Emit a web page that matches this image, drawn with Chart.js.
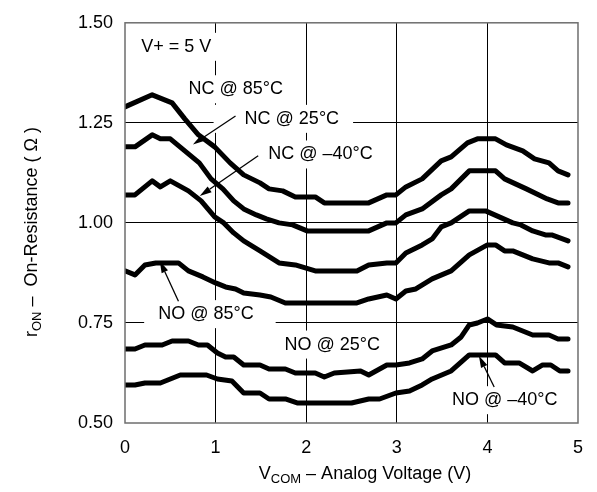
<!DOCTYPE html>
<html>
<head>
<meta charset="utf-8">
<script src="https://cdn.jsdelivr.net/npm/chart.js@4.4.1/dist/chart.umd.min.js"></script>
<style>
  html, body { margin: 0; padding: 0; background: #fff; }
  #wrap { width: 597px; height: 492px; }
</style>
</head>
<body>
<div id="wrap"><canvas id="chart" width="597" height="492"></canvas></div>
<script>
// tick labels
var xTicks = [0, 1, 2, 3, 4, 5];
var yTicks = ['0.50', '0.75', '1.00', '1.25', '1.50'];

// NC @ 85 C
var ncHotV = [0, 0.30, 0.52, 0.66, 0.81, 0.99, 1.16, 1.31, 1.49, 1.59, 1.74, 1.88, 2.10, 2.20, 2.69, 2.89, 2.99, 3.10, 3.28, 3.49, 3.60, 3.78, 3.89, 4.09, 4.21, 4.39, 4.52, 4.68, 4.78, 4.89];
var ncHotR = [1.29, 1.32, 1.30, 1.26, 1.22, 1.19, 1.15, 1.12, 1.10, 1.085, 1.08, 1.065, 1.065, 1.05, 1.05, 1.07, 1.07, 1.09, 1.11, 1.155, 1.165, 1.20, 1.21, 1.21, 1.195, 1.18, 1.16, 1.15, 1.13, 1.12];

// NC @ 25 C
var ncRoomV = [0, 0.11, 0.30, 0.39, 0.50, 0.66, 0.82, 0.95, 1.08, 1.20, 1.31, 1.45, 1.56, 1.70, 1.85, 2.01, 2.69, 2.89, 2.99, 3.10, 3.28, 3.49, 3.60, 3.80, 4.09, 4.19, 4.43, 4.66, 4.78, 4.89];
var ncRoomR = [1.19, 1.19, 1.22, 1.21, 1.21, 1.18, 1.15, 1.11, 1.085, 1.055, 1.035, 1.02, 1.01, 1.00, 0.995, 0.98, 0.98, 1.00, 1.00, 1.02, 1.035, 1.07, 1.085, 1.13, 1.13, 1.11, 1.085, 1.06, 1.05, 1.05];

// NC @ -40 C
var ncColdV = [0, 0.11, 0.30, 0.39, 0.50, 0.70, 0.84, 0.99, 1.09, 1.20, 1.31, 1.49, 1.70, 1.88, 2.10, 2.56, 2.69, 2.89, 2.99, 3.10, 3.28, 3.39, 3.49, 3.60, 3.80, 3.98, 4.28, 4.37, 4.50, 4.64, 4.71, 4.89];
var ncColdR = [1.07, 1.07, 1.105, 1.09, 1.105, 1.08, 1.055, 1.015, 1.00, 0.975, 0.955, 0.93, 0.90, 0.895, 0.88, 0.88, 0.895, 0.90, 0.90, 0.925, 0.945, 0.96, 0.99, 1.00, 1.03, 1.03, 1.00, 0.995, 0.98, 0.97, 0.97, 0.955];

// NO @ 85 C
var noHotV = [0, 0.11, 0.22, 0.34, 0.59, 0.70, 0.86, 1.00, 1.11, 1.22, 1.31, 1.49, 1.61, 1.77, 2.56, 2.69, 2.89, 2.99, 3.10, 3.21, 3.39, 3.60, 3.80, 4.00, 4.09, 4.19, 4.28, 4.50, 4.68, 4.78, 4.89];
var noHotR = [0.88, 0.87, 0.895, 0.90, 0.90, 0.88, 0.865, 0.85, 0.84, 0.835, 0.825, 0.82, 0.815, 0.80, 0.80, 0.81, 0.82, 0.81, 0.83, 0.835, 0.86, 0.88, 0.92, 0.945, 0.945, 0.93, 0.93, 0.91, 0.90, 0.90, 0.89];

// NO @ 25 C
var noRoomV = [0, 0.11, 0.22, 0.41, 0.52, 0.70, 0.81, 0.91, 1.02, 1.11, 1.20, 1.31, 1.49, 1.59, 1.77, 1.88, 2.10, 2.20, 2.31, 2.60, 2.69, 2.89, 2.99, 3.14, 3.28, 3.39, 3.60, 3.71, 3.80, 3.89, 4.00, 4.10, 4.28, 4.50, 4.68, 4.78, 4.89];
var noRoomR = [0.685, 0.685, 0.695, 0.695, 0.705, 0.705, 0.695, 0.695, 0.675, 0.665, 0.665, 0.645, 0.645, 0.635, 0.635, 0.625, 0.625, 0.615, 0.625, 0.63, 0.62, 0.645, 0.645, 0.65, 0.66, 0.68, 0.695, 0.715, 0.745, 0.75, 0.76, 0.745, 0.74, 0.72, 0.72, 0.71, 0.71];

// NO @ -40 C
var noColdV = [0, 0.11, 0.22, 0.39, 0.61, 0.90, 1.02, 1.18, 1.31, 1.49, 1.59, 1.77, 1.90, 2.50, 2.69, 2.81, 2.99, 3.14, 3.28, 3.39, 3.60, 3.80, 4.09, 4.19, 4.35, 4.50, 4.61, 4.70, 4.80, 4.89];
var noColdR = [0.595, 0.595, 0.60, 0.60, 0.62, 0.62, 0.61, 0.605, 0.575, 0.575, 0.56, 0.56, 0.55, 0.55, 0.56, 0.56, 0.575, 0.58, 0.595, 0.61, 0.63, 0.67, 0.67, 0.65, 0.65, 0.63, 0.645, 0.645, 0.63, 0.63];

var FONT = '"Liberation Sans", Arial, Helvetica, sans-serif';

// callouts, placed in data units
var callouts = [
    { text: 'V+ = 5 V', x: 0.18, y: 1.44, padL: 8, padR: 10 },
    { text: 'NC @ 85\u00b0C', x: 0.70, y: 1.334, padL: 8, padR: 8 },
    { text: 'NC @ 25\u00b0C', x: 1.32, y: 1.26, padL: 31, padR: 14 },
    { text: 'NC @ \u201340\u00b0C', x: 1.58, y: 1.171, padL: 8, padR: 8 },
    { text: 'NO @ 85\u00b0C', x: 0.366, y: 0.772, padL: 14, padR: 22 },
    { text: 'NO @ 25\u00b0C', x: 1.76, y: 0.696, padL: 8, padR: 8 },
    { text: 'NO @ \u201340\u00b0C', x: 3.61, y: 0.557, padL: 8, padR: 8 }
];
var arrows = [
    { from: [1.22, 1.267], to: [0.75, 1.196] },
    { from: [1.47, 1.168], to: [0.825, 1.067] },
    { from: [0.59, 0.804], to: [0.384, 0.905] },
    { from: [4.075, 0.59], to: [3.906, 0.668] }
];

function pairs(vs, rs) {
    return vs.map(function (v, i) { return { x: v, y: rs[i] }; });
}

function curve(vs, rs) {
    return {
        data: pairs(vs, rs),
        borderColor: '#000',
        borderWidth: 5,
        pointRadius: 0,
        tension: 0,
        fill: false,
        borderJoinStyle: 'round',
        borderCapStyle: 'round'
    };
}

// draws text pieces with subscripts, centred on cx
function drawRich(ctx, parts, cx, cy) {
    var total = 0;
    parts.forEach(function (p) {
        ctx.font = p.size + 'px ' + FONT;
        p.w = ctx.measureText(p.t).width;
        total += p.w;
    });
    var x = cx - total / 2;
    ctx.textBaseline = 'middle';
    ctx.textAlign = 'left';
    parts.forEach(function (p) {
        ctx.font = p.size + 'px ' + FONT;
        ctx.fillText(p.t, x, cy + p.dy);
        x += p.w;
    });
}

var decorPlugin = {
    id: 'decor',
    beforeDatasetsDraw: function (chart) {
        var ctx = chart.ctx;
        var xs = chart.scales.x, ys = chart.scales.y;
        ctx.save();
        ctx.font = '18px ' + FONT;
        callouts.forEach(function (c) {
            var px = xs.getPixelForValue(c.x), py = ys.getPixelForValue(c.y);
            var w = ctx.measureText(c.text).width;
            ctx.fillStyle = '#fff';
            ctx.fillRect(px - c.padL, py - 14, w + c.padL + c.padR, 28);
        });
        ctx.fillStyle = '#000';
        ctx.textBaseline = 'middle';
        ctx.textAlign = 'left';
        callouts.forEach(function (c) {
            ctx.fillText(c.text, xs.getPixelForValue(c.x), ys.getPixelForValue(c.y));
        });
        ctx.strokeStyle = '#000';
        ctx.lineWidth = 1.3;
        arrows.forEach(function (a) {
            var x1 = xs.getPixelForValue(a.from[0]), y1 = ys.getPixelForValue(a.from[1]);
            var x2 = xs.getPixelForValue(a.to[0]), y2 = ys.getPixelForValue(a.to[1]);
            var ang = Math.atan2(y2 - y1, x2 - x1);
            var len = 12, half = 3.5;
            var bx = x2 - len * Math.cos(ang), by = y2 - len * Math.sin(ang);
            ctx.beginPath();
            ctx.moveTo(x1, y1);
            ctx.lineTo(bx, by);
            ctx.stroke();
            ctx.beginPath();
            ctx.moveTo(x2, y2);
            ctx.lineTo(bx + half * Math.sin(ang), by - half * Math.cos(ang));
            ctx.lineTo(bx - half * Math.sin(ang), by + half * Math.cos(ang));
            ctx.closePath();
            ctx.fill();
        });
        ctx.restore();
    },
    afterDraw: function (chart) {
        var ctx = chart.ctx, a = chart.chartArea;
        ctx.save();
        ctx.strokeStyle = '#6e6e6e';
        ctx.lineWidth = 1.5;
        ctx.strokeRect(a.left, a.top, a.right - a.left, a.bottom - a.top);
        ctx.fillStyle = '#000';
        drawRich(ctx, [
            { t: 'V', size: 18, dy: 0 },
            { t: 'COM', size: 13, dy: 5 },
            { t: ' \u2013 Analog Voltage (V)', size: 18, dy: 0 }
        ], 365, 474);
        ctx.translate(32, 232);
        ctx.rotate(-Math.PI / 2);
        drawRich(ctx, [
            { t: 'r', size: 18, dy: 0 },
            { t: 'ON', size: 13, dy: 5 },
            { t: ' \u2013  On-Resistance ( \u03a9 )', size: 18, dy: 0 }
        ], 0, 0);
        ctx.restore();
    }
};

function gridColor(c) {
    if (!c.tick) return '#000';
    var v = c.tick.value;
    return (v === 0 || v === 5 || v === 0.5 || v === 1.5) ? 'rgba(0,0,0,0)' : '#000';
}

new Chart(document.getElementById('chart').getContext('2d'), {
    type: 'line',
    data: {
        datasets: [
            curve(ncHotV, ncHotR),
            curve(ncRoomV, ncRoomR),
            curve(ncColdV, ncColdR),
            curve(noHotV, noHotR),
            curve(noRoomV, noRoomR),
            curve(noColdV, noColdR)
        ]
    },
    options: {
        responsive: false,
        animation: false,
        layout: { padding: { top: 19, right: 7.5, left: 0, bottom: 0 } },
        plugins: { legend: { display: false }, tooltip: { enabled: false } },
        scales: {
            x: {
                type: 'linear',
                min: xTicks[0],
                max: xTicks[xTicks.length - 1],
                afterBuildTicks: function (s) { s.ticks = xTicks.map(function (v) { return { value: v }; }); },
                ticks: { color: '#000', font: { size: 18, family: FONT }, padding: 14, maxRotation: 0,
                    callback: function (v) { return String(v); } },
                grid: { color: gridColor, lineWidth: 1, drawTicks: false },
                border: { display: false },
                afterFit: function (s) { s.height = 69; }
            },
            y: {
                type: 'linear',
                min: +yTicks[0],
                max: +yTicks[yTicks.length - 1],
                afterBuildTicks: function (s) { s.ticks = yTicks.map(function (v) { return { value: +v }; }); },
                ticks: { color: '#000', font: { size: 18, family: FONT }, padding: 12,
                    callback: function (v) { return v.toFixed(2); } },
                grid: { color: gridColor, lineWidth: 1, drawTicks: false },
                border: { display: false },
                afterFit: function (s) { s.width = 125; }
            }
        }
    },
    plugins: [decorPlugin]
});
</script>
</body>
</html>
